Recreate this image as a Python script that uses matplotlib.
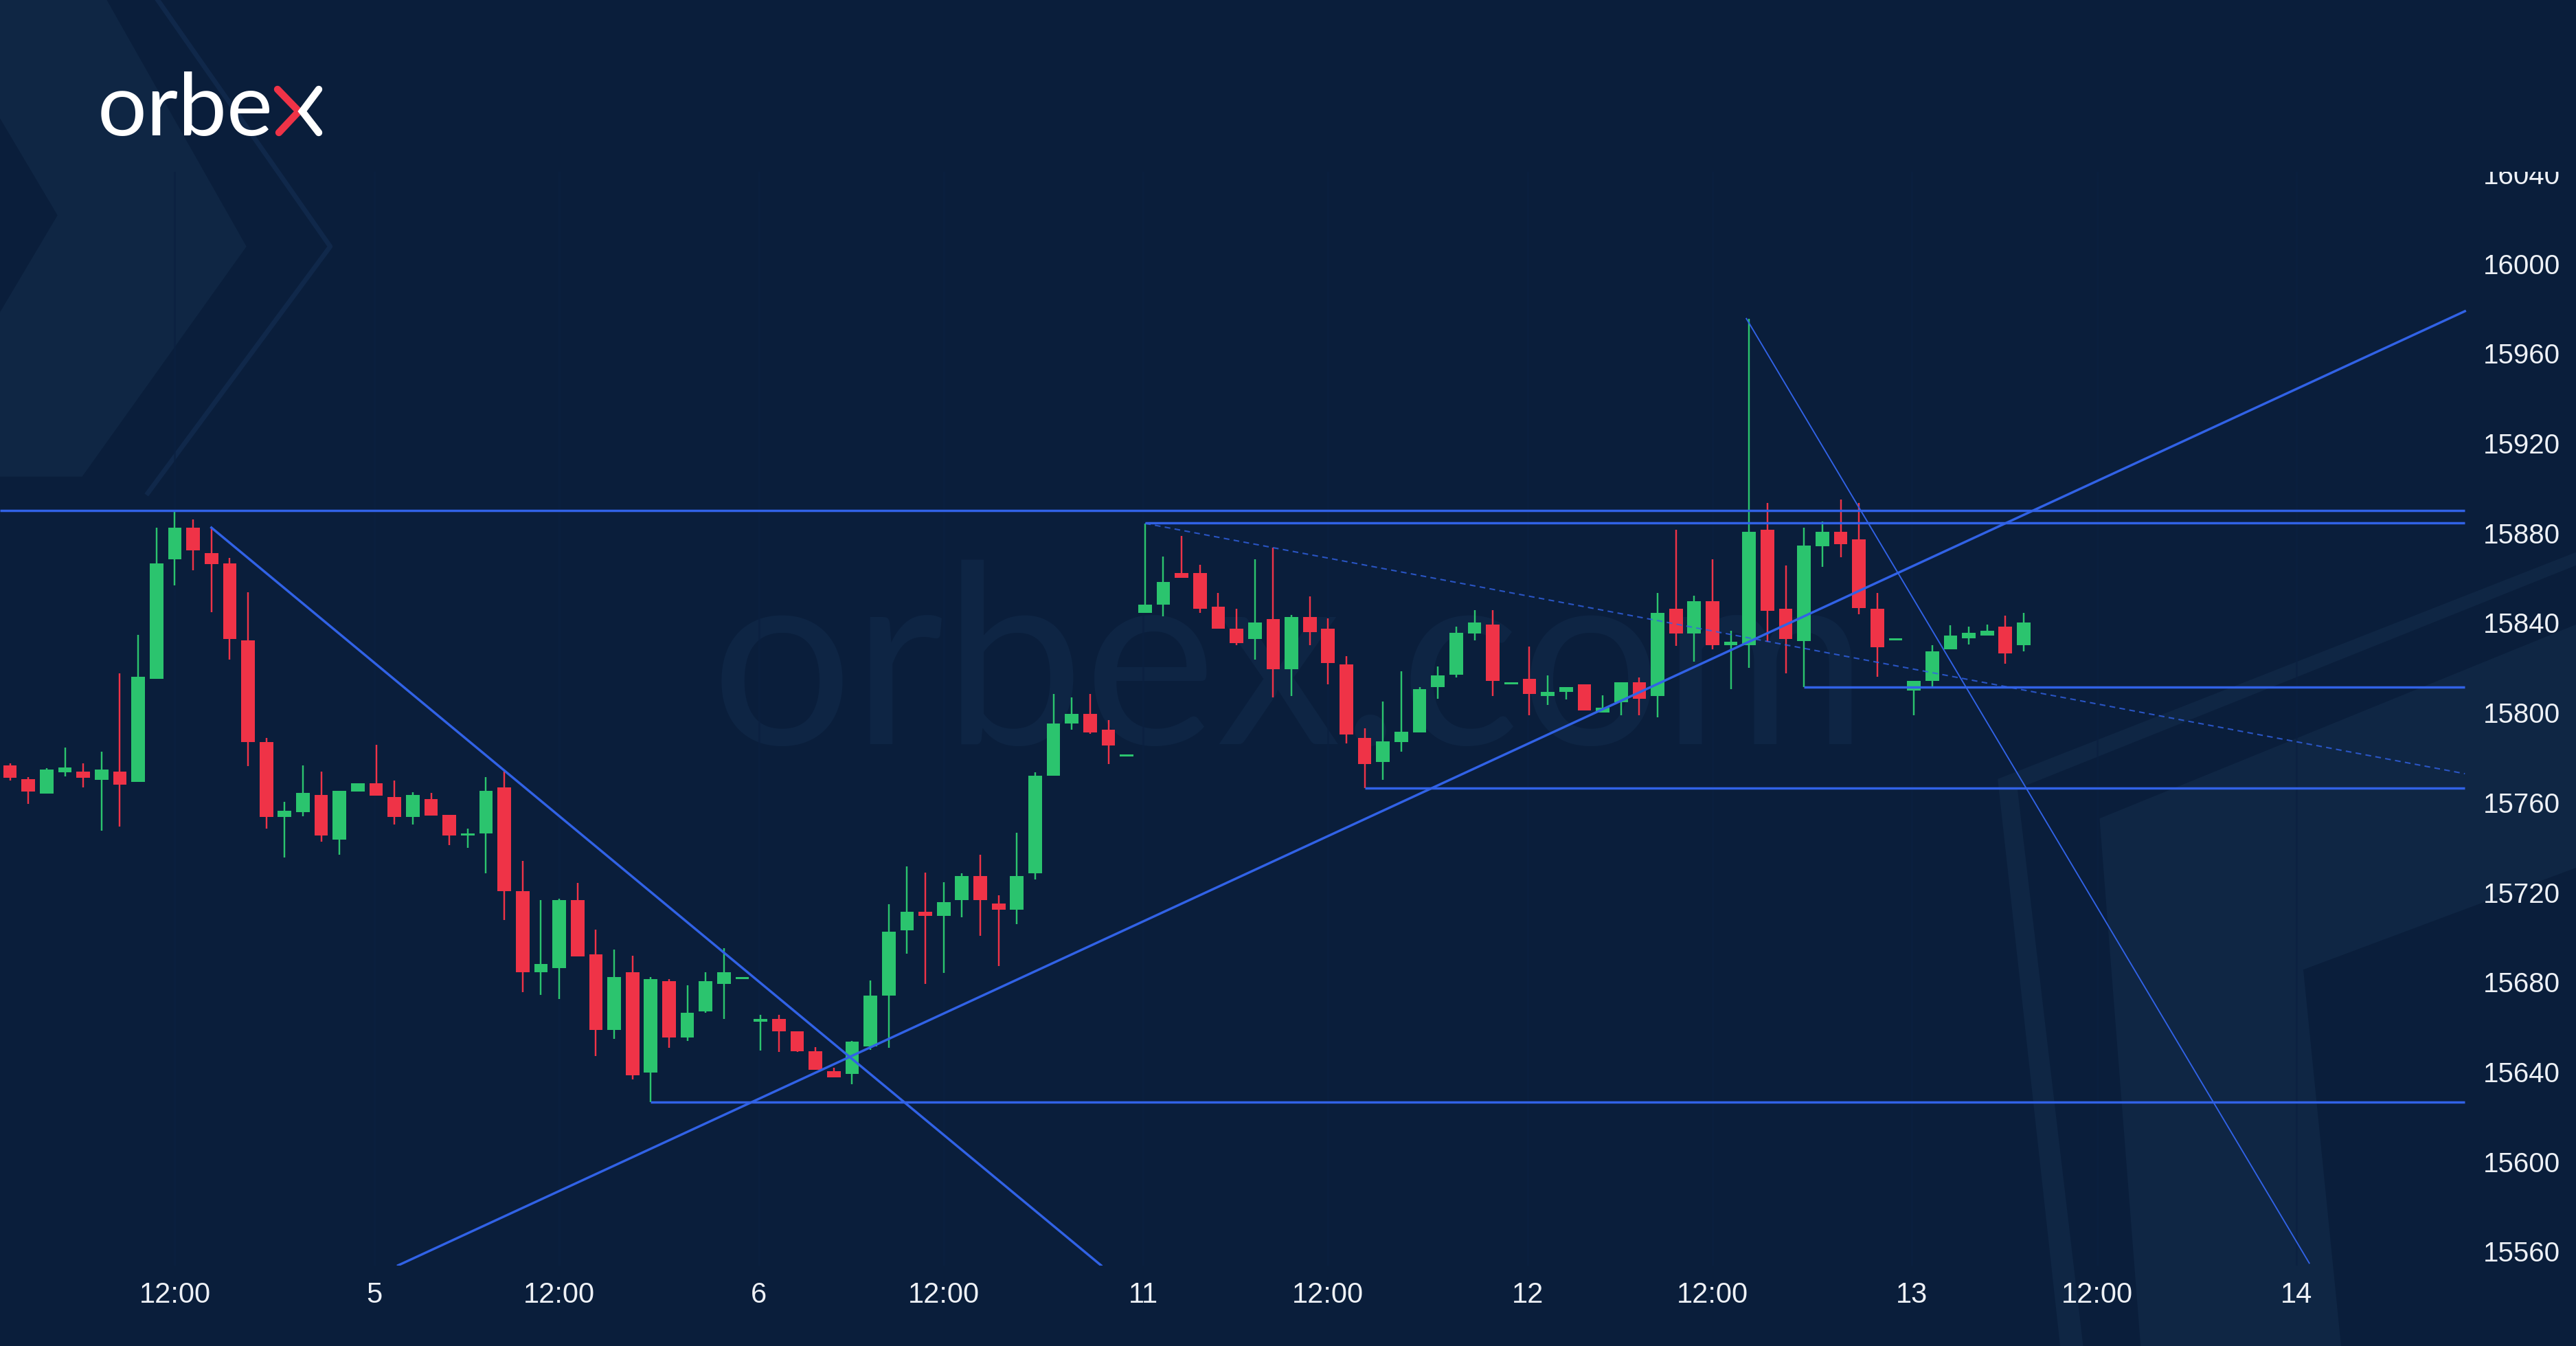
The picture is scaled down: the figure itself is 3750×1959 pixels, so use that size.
import numpy as np
import matplotlib
matplotlib.use("Agg")
import matplotlib.pyplot as plt
import matplotlib.transforms as mtransforms
from matplotlib.patches import Polygon
from matplotlib.lines import Line2D

# hourly candles (bar index 0 = first visible bar)
opens = [15777.6, 15771.7, 15765.2, 15774.6, 15774.8, 15771.3, 15774.8, 15770.4, 15816.3, 15869.4,
         15883.6, 15872.3, 15867.7, 15833.4, 15788.1, 15754.6, 15757.0, 15764.4, 15744.6, 15766.1,
         15769.6, 15763.5, 15754.6, 15762.6, 15755.7, 15746.4, 15747.4, 15767.8, 15721.8, 15685.6,
         15687.5, 15717.7, 15693.6, 15660.0, 15685.6, 15640.8, 15681.5, 15656.4, 15668.0, 15680.4,
         15682.5, 15663.4, 15664.7, 15659.3, 15650.4, 15641.5, 15640.4, 15652.4, 15675.3, 15704.3,
         15712.4, 15710.6, 15717.6, 15728.4, 15716.3, 15713.3, 15729.7, 15773.2, 15796.4, 15800.7,
         15793.6, 15781.6, 15845.5, 15849.2, 15863.5, 15863.5, 15848.3, 15838.7, 15834.0, 15842.8,
         15820.5, 15843.7, 15838.7, 15822.7, 15789.9, 15779.2, 15788.1, 15792.3, 15812.5, 15818.1,
         15836.3, 15840.5, 15813.7, 15816.4, 15808.5, 15810.3, 15813.7, 15801.4, 15805.7, 15814.6,
         15808.5, 15847.5, 15836.4, 15850.7, 15831.2, 15831.2, 15882.7, 15847.5, 15833.0, 15875.3,
         15881.6, 15878.5, 15847.5, 15833.4, 15811.2, 15815.4, 15829.3, 15834.3, 15835.5, 15839.5,
         15831.2]
highs = [15778.7, 15772.6, 15776.6, 15785.7, 15778.7, 15783.9, 15818.6, 15835.8, 15883.6, 15891.1,
         15887.3, 15883.6, 15870.1, 15854.7, 15789.8, 15761.6, 15777.8, 15775.0, 15766.5, 15769.6,
         15786.9, 15770.9, 15765.7, 15765.4, 15755.7, 15749.6, 15772.4, 15775.9, 15735.3, 15717.7,
         15718.4, 15725.5, 15704.5, 15695.6, 15693.0, 15683.4, 15682.5, 15679.7, 15685.6, 15696.4,
         15682.5, 15666.5, 15666.5, 15659.3, 15652.2, 15643.0, 15655.0, 15681.8, 15715.8, 15732.8,
         15730.0, 15725.6, 15729.7, 15738.0, 15719.8, 15747.7, 15774.5, 15809.4, 15807.9, 15809.4,
         15797.9, 15781.6, 15885.4, 15870.6, 15879.8, 15867.2, 15854.4, 15847.4, 15869.6, 15874.6,
         15844.6, 15853.0, 15843.1, 15826.4, 15794.2, 15806.0, 15819.6, 15812.5, 15821.8, 15839.6,
         15846.8, 15846.8, 15813.7, 15830.7, 15817.7, 15812.5, 15813.7, 15808.8, 15814.6, 15816.8,
         15854.6, 15882.7, 15853.4, 15869.6, 15837.7, 15976.7, 15894.6, 15866.8, 15883.7, 15886.4,
         15896.1, 15894.6, 15854.4, 15833.4, 15815.4, 15831.2, 15840.1, 15839.5, 15840.5, 15844.5,
         15845.7]
lows = [15770.9, 15760.7, 15765.2, 15772.8, 15767.8, 15748.7, 15750.5, 15770.4, 15816.3, 15858.0,
        15864.5, 15846.0, 15824.7, 15777.4, 15749.4, 15736.6, 15755.0, 15743.8, 15737.9, 15766.1,
        15764.2, 15751.4, 15751.4, 15755.3, 15742.2, 15740.9, 15729.7, 15708.8, 15676.7, 15675.4,
        15673.6, 15692.7, 15648.2, 15656.0, 15637.8, 15627.8, 15651.9, 15655.0, 15667.5, 15664.9,
        15682.5, 15650.8, 15650.0, 15650.0, 15642.1, 15638.9, 15635.7, 15650.9, 15651.8, 15693.9,
        15680.5, 15685.2, 15710.2, 15701.8, 15688.3, 15707.0, 15726.9, 15773.2, 15793.6, 15791.8,
        15778.2, 15781.6, 15845.5, 15844.1, 15861.3, 15845.5, 15838.5, 15831.1, 15824.8, 15807.9,
        15808.5, 15831.3, 15813.7, 15787.5, 15767.7, 15771.4, 15783.8, 15792.3, 15807.5, 15816.8,
        15833.5, 15808.5, 15813.7, 15800.1, 15804.7, 15807.0, 15802.3, 15801.4, 15800.1, 15800.1,
        15799.0, 15830.8, 15823.8, 15829.3, 15811.7, 15821.0, 15832.7, 15818.6, 15812.7, 15866.1,
        15870.5, 15845.1, 15817.3, 15833.4, 15800.0, 15812.7, 15829.3, 15831.6, 15835.5, 15822.9,
        15828.4]
closes = [15772.2, 15766.1, 15775.9, 15776.8, 15772.2, 15775.9, 15769.2, 15817.3, 15867.7, 15883.6,
          15873.4, 15867.3, 15833.9, 15788.1, 15754.6, 15757.4, 15765.5, 15746.4, 15766.5, 15769.6,
          15764.2, 15754.6, 15764.4, 15755.3, 15746.4, 15746.8, 15766.5, 15721.8, 15685.6, 15689.3,
          15717.7, 15692.7, 15660.0, 15683.4, 15639.7, 15682.5, 15656.4, 15667.5, 15681.5, 15685.6,
          15682.5, 15664.7, 15659.3, 15650.4, 15642.1, 15638.9, 15654.8, 15675.3, 15703.7, 15712.4,
          15710.6, 15716.7, 15728.4, 15717.6, 15713.3, 15728.4, 15773.2, 15796.4, 15800.7, 15792.3,
          15786.6, 15781.6, 15849.2, 15859.4, 15861.3, 15847.4, 15838.5, 15832.2, 15841.3, 15820.5,
          15843.7, 15837.2, 15823.3, 15791.4, 15778.2, 15788.4, 15792.7, 15811.6, 15817.7, 15836.8,
          15841.3, 15815.3, 15813.7, 15809.4, 15810.3, 15812.5, 15802.3, 15803.5, 15814.6, 15807.5,
          15845.6, 15836.4, 15850.7, 15831.2, 15832.7, 15881.6, 15846.4, 15834.0, 15875.7, 15881.6,
          15876.1, 15847.9, 15830.3, 15833.4, 15815.4, 15828.4, 15835.5, 15836.8, 15837.7, 15827.5,
          15841.4]

x_labels = ["12:00", "5", "12:00", "6", "12:00", "11", "12:00", "12", "12:00", "13", "12:00", "14"]
y_levels = list(range(15560, 16041, 40))

# analyst drawings: (bar index, price)
res_top = 15891.3
res_box = (62, 15885.8)
sup_a = (98, 15812.7)
sup_b = (74, 15767.7)
sup_c = (35, 15627.8)
fall_1 = [(11, 15883.6), (59.6, 15555)]
rise_1 = [(21.2, 15555), (134.1, 15980)]
fall_2 = [(94.85, 15976.7), (125.6, 15556)]
dash_1 = [(62, 15885.5), (134.1, 15774)]
line_end = 134.1

BG = "#0a1e3b"
GREEN = "#2bc46e"
RED = "#ef3347"
BLUE = "#3162e6"
TXT = "#eef1f6"

W, H = 3750, 1959
fig = plt.figure(figsize=(W / 250, H / 250), dpi=250, facecolor=BG)


def px(pts):
    # reference-screen pixels (1568 x 819 view) -> figure fraction
    return [(x / 1568, 1 - y / 819) for x, y in pts]


# background chevrons
fig.patches.append(Polygon(px([(0, 0), (65, 0), (150, 150), (50, 290), (0, 290), (0, 190), (35, 131), (0, 72)]),
                           closed=True, transform=fig.transFigure, fc="#0f2644", ec="none", zorder=-2))
fig.lines.append(Line2D(*zip(*px([(96, 0), (201, 150), (90, 300)])), transform=fig.transFigure,
                        color="#10284a", lw=2.0, zorder=-2))
fig.patches.append(Polygon(px([(1278, 498), (1568, 380), (1568, 528), (1402, 590), (1425, 819), (1303, 819)]),
                           closed=True, transform=fig.transFigure, fc="#0f2644", ec="none", zorder=-2))
fig.patches.append(Polygon(px([(1216, 474), (1568, 336), (1568, 344), (1228, 480), (1268, 819), (1254, 819)]),
                           closed=True, transform=fig.transFigure, fc="#0f2644", ec="none", zorder=-2))

# watermark
fig.text(0.5006, 0.50, "orbex.com", ha="center", va="center", fontsize=105, family="Lato",
         fontweight="normal", color="#0e2544", zorder=-1)

# logo
fig.text(142 / W, 1 - 197 / H, "orbe", ha="left", va="baseline", fontsize=36.5, family="Lato",
         fontweight="normal", color="white", zorder=5)
red_x = [(404, 130), (435, 162), (406, 193)]
white_x = [(464, 130), (440, 162), (464, 193)]
for pts, col in [(red_x, RED), (white_x, "white")]:
    xs = [p[0] / W for p in pts]
    ys = [1 - p[1] / H for p in pts]
    fig.lines.append(Line2D(xs, ys, transform=fig.transFigure, color=col, lw=3.0,
                            solid_capstyle="round", solid_joinstyle="miter", zorder=5))

ax = fig.add_axes([0, 117 / H, 1, (1842 - 250) / H])
ax.patch.set_alpha(0)
x_left, x_right = -0.548, 140.17
ax.set_xlim(x_left, x_right)
ax.set_ylim(15554.9, 16042.1)
for s in ax.spines.values():
    s.set_visible(False)

# candles
o = np.array(opens)
h = np.array(highs)
l = np.array(lows)
c = np.array(closes)
idx = np.arange(len(o))
col = np.where(c >= o, GREEN, RED)
ax.vlines(idx, l, h, colors=col, linewidth=0.7, zorder=3)
ax.bar(idx, np.maximum(np.abs(c - o), 0.9), bottom=np.minimum(o, c), width=0.74,
       color=col, linewidth=0, zorder=4)

# drawings
ax.hlines(res_top, x_left, line_end, color=BLUE, lw=1.0, zorder=5)
for start in (res_box, sup_a, sup_b, sup_c):
    ax.hlines(start[1], start[0], line_end, color=BLUE, lw=1.0, zorder=5)
for seg in (fall_1, rise_1):
    ax.plot(*zip(*seg), color=BLUE, lw=1.0, zorder=5)
ax.plot(*zip(*fall_2), color=BLUE, lw=0.55, zorder=5)
ax.plot(*zip(*dash_1), color=BLUE, lw=0.6, dashes=(4, 3), alpha=0.8, zorder=5)

# axes text
tick_pos = [9 + 21 * (k // 2) if k % 2 == 0 else 19.9 + 21 * (k // 2) for k in range(len(x_labels))]
ax.set_xticks(tick_pos, x_labels)
ax.tick_params(axis="x", length=0, pad=6.6, labelsize=12, labelcolor=TXT)
for lab in ax.get_xticklabels():
    lab.set_family("Liberation Sans")
ax.set_yticks([])
ax.grid(axis="x", color="#0b2040", lw=0.8, alpha=0.7, zorder=0)

trans = mtransforms.blended_transform_factory(ax.transAxes, ax.transData)
for v in y_levels:
    ax.text(0.979, v, str(v), transform=trans, ha="center", va="center", fontsize=11.6,
            family="Liberation Sans", color=TXT, clip_on=True)

fig.savefig("out.png", dpi=250, facecolor=BG)
